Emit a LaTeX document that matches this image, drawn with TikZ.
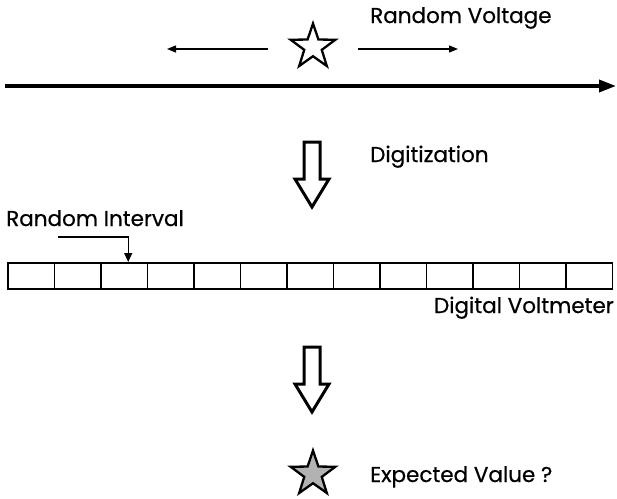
\documentclass[tikz,border=0pt]{standalone}
\usepackage{fontspec}
\setmainfont{Poppins}[FakeBold=0.6]
\usetikzlibrary{arrows.meta,shapes.geometric}
\begin{document}
\begin{tikzpicture}[x=1pt,y=-1pt,
  label/.style={font=\fontsize{21.5}{21.5}\selectfont, inner sep=0pt},
  cellbox/.style={draw, line width=1.9pt, minimum width=46.5pt, minimum height=26pt, inner sep=0pt, anchor=north west},
  starnode/.style={star, star points=5, star point ratio=2.55, minimum size=47pt, inner sep=0pt, line width=2.3pt, draw},
  thin arrow/.style={line width=1.3pt, -{Triangle[length=9pt,width=7pt]}},
  hollowdown/.pic={\draw[line width=3pt, line join=miter]
     (-8,0) -- (8,0) -- (8,37) -- (17,37) -- (0,65) -- (-17,37) -- (-8,37) -- cycle;}
]
\useasboundingbox (0,0) rectangle (617,498);

% random voltage on the axis
\coordinate (axisL) at (5,86);
\coordinate (axisR) at (616,86);
\draw[line width=3.6pt, -{Triangle[length=17pt,width=12pt]}] (axisL) -- (axisR);

\node[starnode, fill=white] (vstar) at (313,47) {};
\coordinate (leftStart) at (268,49);
\coordinate (leftEnd) at (167,49);
\coordinate (rightStart) at (358,49);
\coordinate (rightEnd) at (458,49);
\draw[thin arrow] (leftStart) -- (leftEnd);
\draw[thin arrow] (rightStart) -- (rightEnd);
\node[label, anchor=base west] (rv) at (370,23) {Random Voltage};

% digitization
\pic at (312,142) {hollowdown};
\node[label, anchor=base west] (dig) at (370,162) {Digitization};

% voltmeter cells
\foreach \i in {1,...,13} {
  \node[cellbox] (cell\i) at ({7+46.5*(\i-1)},262) {};
}
\node[label, anchor=base west] (ri) at (6,226) {Random Interval};
\coordinate (riStart) at (58,237);
\draw[line width=1.2pt, -{Triangle[length=9pt,width=8pt]}]
  (riStart) -| ([xshift=4pt]cell3.north);
\node[label, anchor=base east] (dv) at (614,313) {Digital Voltmeter};

% expected value
\pic at (312,347) {hollowdown};
\node[starnode, fill=gray!60] (estar) at (313,474) {};
\node[label, anchor=base west] (ev) at (370,482) {Expected Value ?};
\end{tikzpicture}
\end{document}
